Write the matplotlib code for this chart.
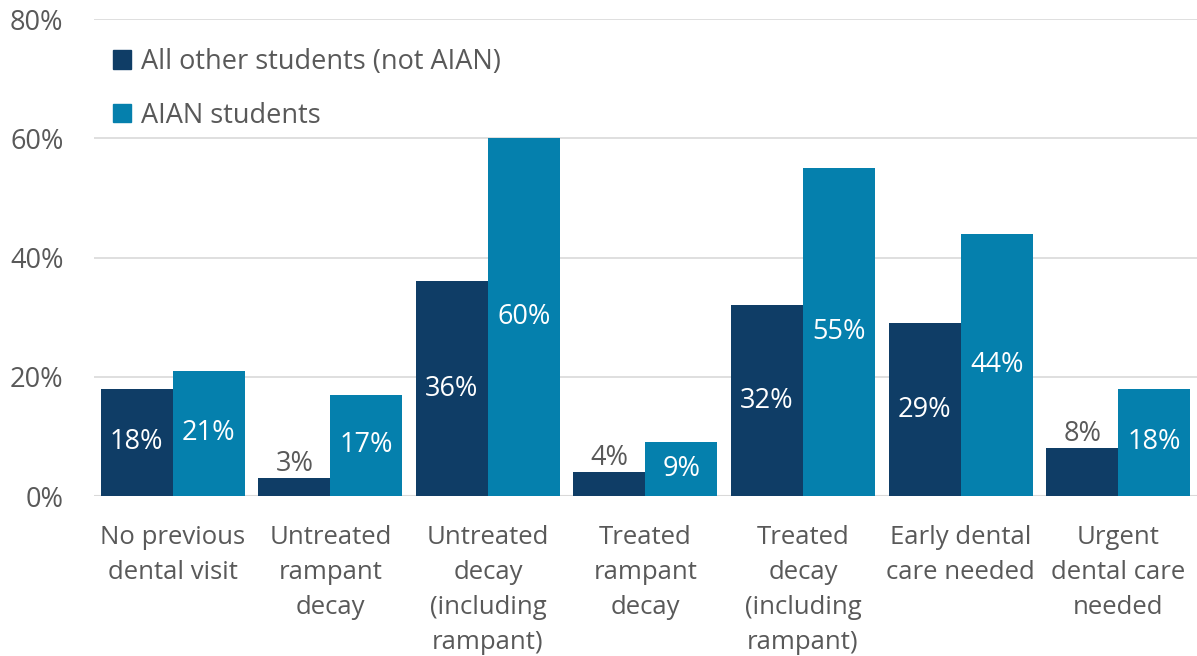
import numpy as np
import matplotlib.pyplot as plt
from matplotlib.patches import Patch

categories = ["No previous\ndental visit", "Untreated\nrampant\ndecay",
              "Untreated\ndecay\n(including\nrampant)", "Treated\nrampant\ndecay",
              "Treated\ndecay\n(including\nrampant)", "Early dental\ncare needed",
              "Urgent\ndental care\nneeded"]
other_students = [18, 3, 36, 4, 32, 29, 8]
aian_students = [21, 17, 60, 9, 55, 44, 18]
series_names = ["All other students (not AIAN)", "AIAN students"]
yticks = [0, 20, 40, 60, 80]

dark = "#0f3d66"
light = "#0580ad"
grey = "#595959"
fs = 19.5

plt.rcParams['font.family'] = ['Open Sans', 'DejaVu Sans']

fig = plt.figure(figsize=(11.97, 6.56), dpi=100)
ax = fig.add_axes([0.0785, 0.2439, 0.9215, 0.7271])

x = np.arange(len(categories))
w = 0.457
b1 = ax.bar(x - w / 2, other_students, w, color=dark, zorder=3)
b2 = ax.bar(x + w / 2, aian_students, w, color=light, zorder=3)

# value labels: inside the bar when it fits, above it otherwise
for bars, vals in ((b1, other_students), (b2, aian_students)):
    for rect, v in zip(bars, vals):
        cx = rect.get_x() + rect.get_width() / 2
        if v >= 9:
            ax.text(cx, v / 2, f"{v}%", ha="center", va="center",
                    color="white", fontsize=fs, zorder=4)
        else:
            ax.text(cx, v + 0.1, f"{v}%", ha="center", va="bottom",
                    color=grey, fontsize=fs, zorder=4)

ax.set_xlim(-0.5, len(categories) - 0.5)
ax.set_ylim(0, 80)
ax.set_yticks(yticks)
ax.set_yticklabels([f"{t}%" for t in yticks])
ax.set_xticks(x)
ax.set_xticklabels(categories, linespacing=1.53, fontsize=18.5)
ax.tick_params(axis="both", length=0, labelcolor=grey)
ax.tick_params(axis="y", labelsize=fs, pad=22)
ax.tick_params(axis="x", pad=21)

ax.grid(axis="y", color="#d9d9d9", linewidth=1.2, zorder=0)
for s in ax.spines.values():
    s.set_visible(False)
ax.axhline(0, color="#d9d9d9", linewidth=1.5, zorder=2)

handles = [Patch(color=dark), Patch(color=light)]
ax.legend(handles, series_names, loc="upper left", bbox_to_anchor=(0.0, 0.979),
          frameon=False, fontsize=fs, labelcolor=grey, handlelength=0.65,
          handleheight=0.65, handletextpad=0.4, labelspacing=0.95, borderaxespad=0.3)

fig.savefig("out.png", dpi=100)
